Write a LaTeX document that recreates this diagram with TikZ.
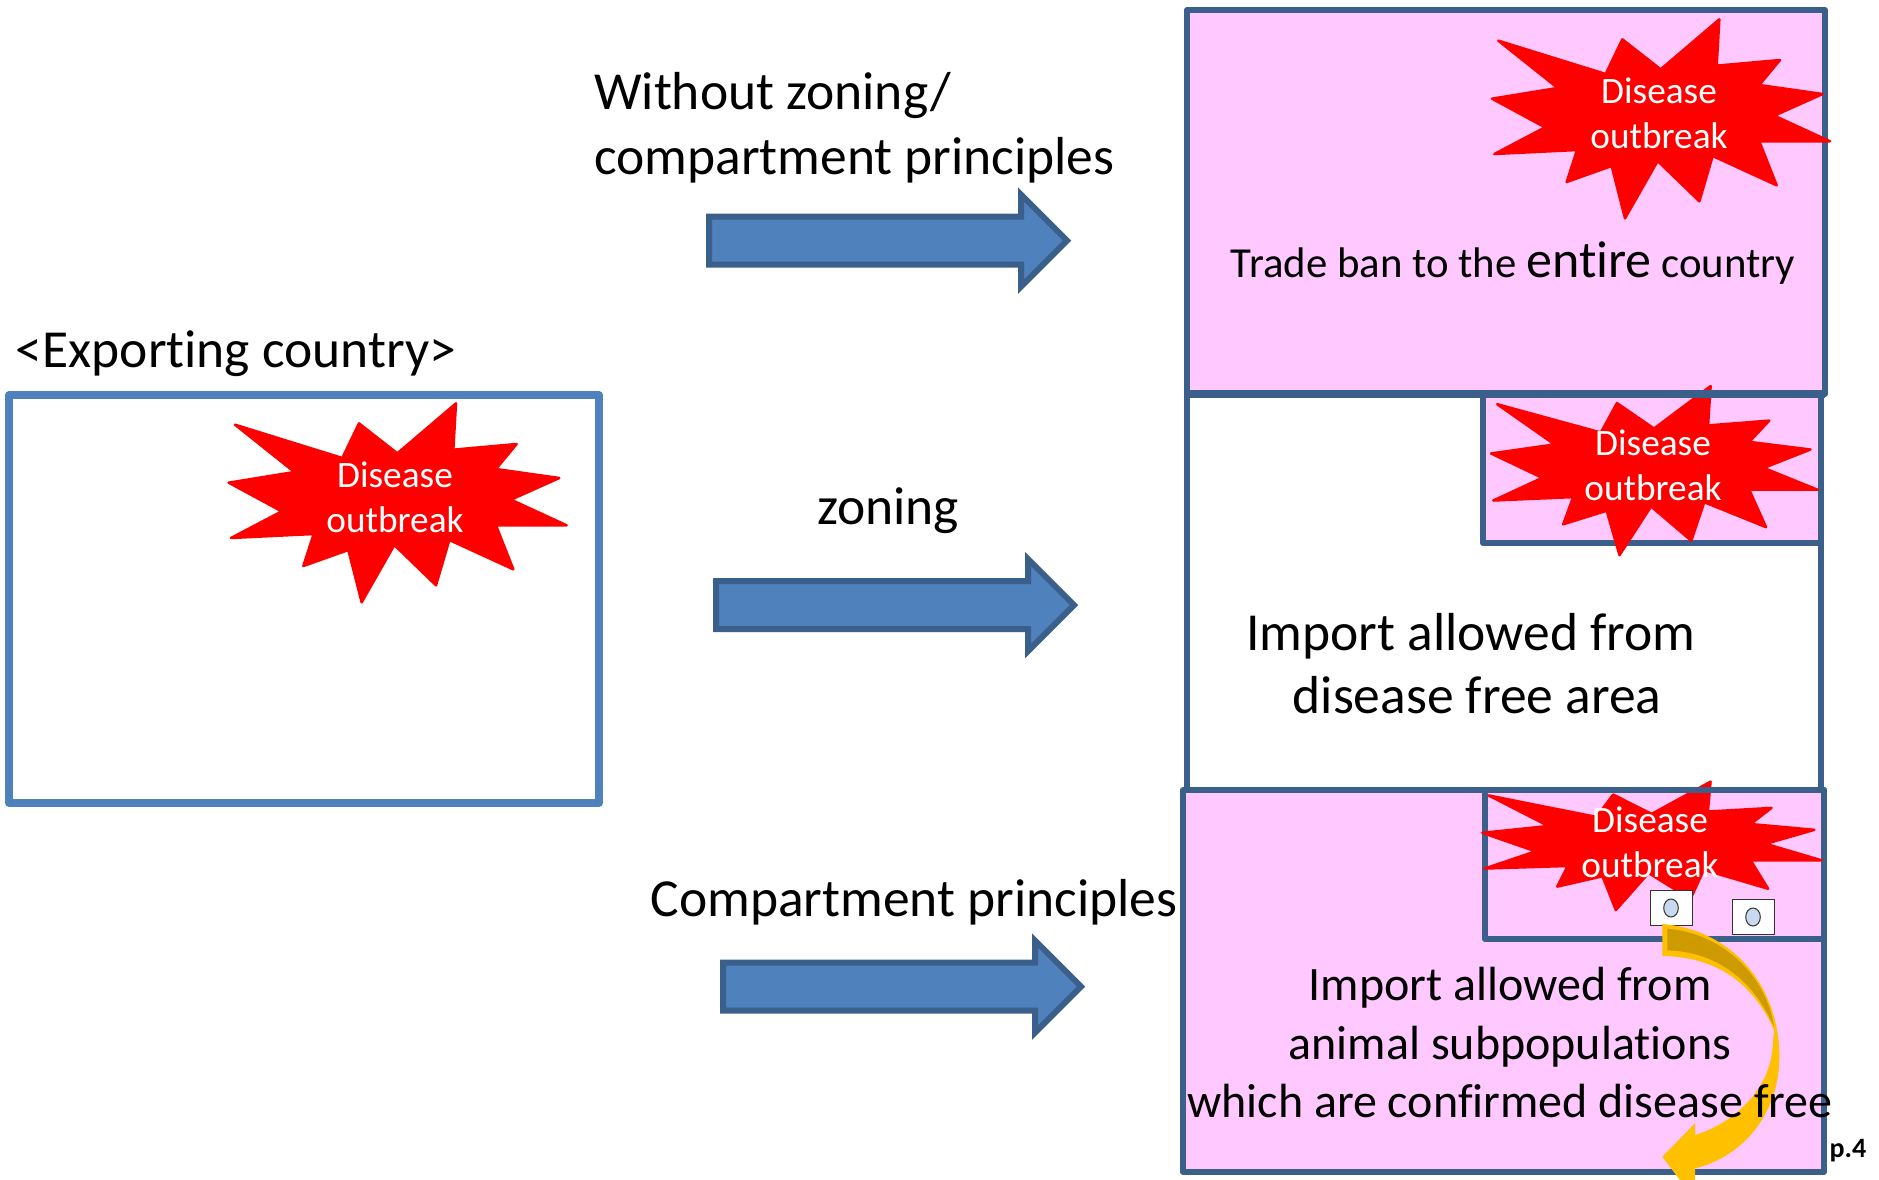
\documentclass[tikz,border=0pt]{standalone}
\usepackage{fontspec}
\usetikzlibrary{shapes.geometric}
\setmainfont[Ligatures=NoCommon]{Carlito}
\definecolor{boxblue}{HTML}{4F81BD}
\definecolor{edgeblue}{HTML}{3A5F8B}
\definecolor{panelpink}{HTML}{FFC8FF}
\definecolor{burstred}{HTML}{FF0000}
\definecolor{foldgold}{HTML}{CD9B00}
\definecolor{arrowgold}{HTML}{FFC000}
\definecolor{dotblue}{HTML}{C6D9F1}
\tikzset{
  panel/.style={draw=edgeblue,line width=6pt,line join=round},
  burstshape/.style={fill=burstred,draw=burstred,line width=2.5pt,line join=round},
  bigarrowshape/.style={fill=boxblue,draw=edgeblue,line width=6pt,line join=miter},
  bigtext/.style={font=\fontsize{53.5}{65}\selectfont,align=center,inner sep=0pt},
  midtext/.style={font=\fontsize{48}{58.4}\selectfont,align=center,inner sep=0pt},
  bursttext/.style={font=\fontsize{37.3}{44.6}\selectfont,text=white,align=center,inner sep=0pt},
  herdbox/.style={draw=black!80,fill=white,line width=1pt},
  herddot/.style={draw=black!80,fill=dotblue,line width=1pt}
}
\newcommand{\burstat}[4]{%
  \begin{scope}[shift={(#1,#2)},xscale=#3/3,yscale=#4/3]
    \path[burstshape] (838,58)--(830,197)--(1020,180)--(958,255)--(1148,282)--(1003,347)--(1170,424)--(958,424)--(1010,556)--(818,468)--(778,604)--(653,483)--(555,655)--(515,498)--(380,546)--(411,450)--(163,462)--(315,382)--(156,296)--(353,264)--(175,122)--(497,222)--(547,118)--(662,208)--cycle;
  \end{scope}}
\newcommand{\arrowat}[2]{%
  \begin{scope}[shift={(#1,#2)}]
    \path[bigarrowshape] (0,-24)--(312,-24)--(312,-46)--(358,0)--(312,46)--(312,24)--(0,24)--cycle;
  \end{scope}}
\begin{document}
\begin{tikzpicture}[x=1pt,y=-1pt]
\useasboundingbox (0,0) rectangle (1879,1179);
% exporting country
\draw[draw=boxblue,line width=7.5pt,fill=white,line join=round] (9,395) rectangle (599,803);
\burstat{176.67}{384}{1}{1}
\node[bursttext] (leftburst) at (395,497) {Disease\\outbreak};
\node[bigtext] (exporter) at (236,354) {<Exporting country>};
% panels
\path[panel,fill=panelpink] (1187,10) rectangle (1825,394);
\path[panel,fill=white] (1187,394) rectangle (1821,790);
\path[panel,fill=panelpink] (1483,394) rectangle (1821,543);
\path[panel,fill=panelpink] (1183,790) rectangle (1824,1172);
\path[panel] (1485,790) rectangle (1824,939);
% bursts
\burstat{1440}{0}{1}{1}
\burstat{1440.8}{369.6}{.966}{.85}
\burstat{1430.1}{769.2}{1.004}{.645}
\coordinate (topa) at (1187,394);
\coordinate (topb) at (1825,394);
\coordinate (topc) at (1183,790);
\coordinate (topd) at (1824,790);
\draw[draw=edgeblue,line width=8pt] (topa) -- (topb);
\draw[draw=edgeblue,line width=6pt] (topc) -- (topd);
% herd boxes
\node[herdbox,minimum width=42pt,minimum height=35pt,inner sep=0pt] (herda) at (1671,907.5) {};
\node[herddot,ellipse,minimum width=14.6pt,minimum height=18pt,inner sep=0pt] (dota) at (1671,908) {};
\node[herdbox,minimum width=42pt,minimum height=35pt,inner sep=0pt] (herdb) at (1753,916.5) {};
\node[herddot,ellipse,minimum width=14.6pt,minimum height=18pt,inner sep=0pt] (dotb) at (1753,917) {};
% curved arrow
\begin{scope}[shift={(1400,770)},scale=1/3]
  \fill[arrowgold] (787,462) .. controls (1000,480) and (1138,650) .. (1138,860)
     .. controls (1138,1030) and (1030,1160) .. (885,1195)
     -- (885,1290) -- (787,1160) -- (885,1060) -- (885,1095)
     .. controls (1000,1060) and (1110,960) .. (1118,830)
     -- (1122,780) .. controls (1060,640) and (950,560) .. (787,558) -- cycle;
  \fill[foldgold] (802,476) .. controls (970,490) and (1100,620) .. (1122,770)
     .. controls (1060,630) and (950,545) .. (802,541) -- cycle;
\end{scope}
% arrows
\arrowat{709}{240.5}
\arrowat{716}{605}
\arrowat{723}{986.5}
% labels
\node[bigtext,align=left,anchor=west] (lab1) at (594,128) {Without zoning/\\compartment principles};
\node[bigtext] (lab2) at (888,511) {zoning};
\node[bigtext] (lab3) at (914,902) {Compartment principles};
\node[bursttext] (burstA) at (1659,113.5) {Disease\\outbreak};
\node[bursttext] (burstB) at (1653,465.5) {Disease\\outbreak};
\node[bursttext] (burstC) at (1650,842.5) {Disease\\outbreak};
\node[inner sep=0pt,font=\fontsize{42.8}{46}\selectfont] (ban) at (1513,263) {Trade ban to the {\fontsize{52}{46}\selectfont entire} country};
\node[bigtext] (free1) at (1471,636) {Import allowed from};
\node[bigtext] (free2) at (1477,695) {disease free area};
\node[midtext] (sub) at (1510,1042.5) {Import allowed from\\animal subpopulations\\which are confirmed disease free};
\node[inner sep=0pt,font=\fontsize{28}{30}\bfseries\selectfont] (page) at (1848,1151) {p.4};
\end{tikzpicture}
\end{document}
